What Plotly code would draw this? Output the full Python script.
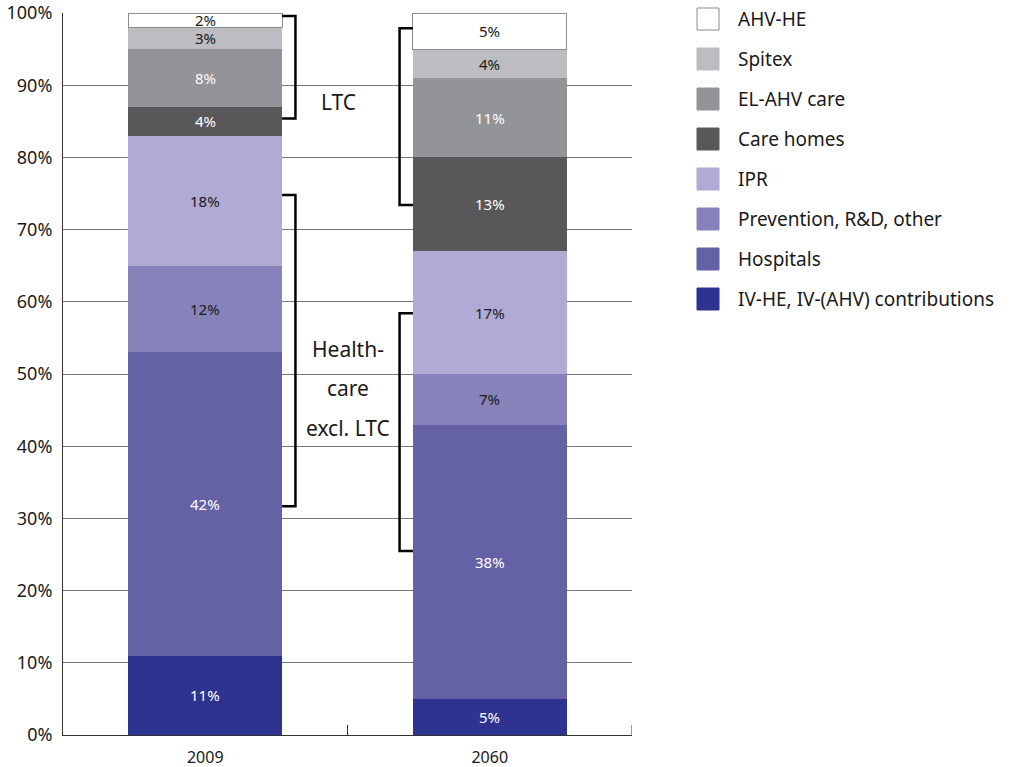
import plotly.graph_objects as go

years = ["2009", "2060"]
categories = ["IV-HE, IV-(AHV) contributions", "Hospitals", "Prevention, R&D, other",
              "IPR", "Care homes", "EL-AHV care", "Spitex", "AHV-HE"]
share_2009 = [11, 42, 12, 18, 4, 8, 3, 2]
share_2060 = [5, 38, 7, 17, 13, 11, 4, 5]
colors = ["#2e3390", "#6461a5", "#8882bb", "#b0aad4", "#58585a", "#939497", "#bcbdc0", "#ffffff"]
label_colors = ["white", "white", "#1a1a1a", "#1a1a1a", "white", "white", "#1a1a1a", "#1a1a1a"]

# Brackets grouping the stacks: (year index, side, y from, y to)
brackets = [
    (0, "right", 85.4, 99.6),   # LTC 2009
    (0, "right", 31.7, 74.8),   # Health-care 2009
    (1, "left", 73.4, 97.9),    # LTC 2060
    (1, "left", 25.5, 58.4),    # Health-care 2060
]

FONT = "Noto Sans"
BAR_W = 0.54
TXT = "#1a1a1a"

fig = go.Figure()
for i, cat in enumerate(categories):
    white = colors[i] == "#ffffff"
    fig.add_trace(go.Bar(
        x=[0, 1], y=[share_2009[i], share_2060[i]], name=cat,
        width=BAR_W, marker=dict(color=colors[i],
                                 line=dict(color="#8c8c8c" if white else colors[i],
                                           width=1 if white else 0)),
        showlegend=False, hoverinfo="skip",
    ))

annotations = []
# segment labels at each segment's midpoint
for xi, vals in enumerate([share_2009, share_2060]):
    base = 0
    for i, v in enumerate(vals):
        annotations.append(dict(x=xi, y=base + v / 2, xref="x", yref="y", text=f"{v}%",
                                showarrow=False, yanchor="middle",
                                font=dict(family=FONT, size=15, color=label_colors[i])))
        base += v

shapes = []
stub = 0.047
for xi, side, y0, y1 in brackets:
    if side == "right":
        edge = xi + BAR_W / 2
        outer = edge + stub
    else:
        edge = xi - BAR_W / 2
        outer = edge - stub
    path = f"M {edge},{y1} L {outer},{y1} L {outer},{y0} L {edge},{y0}"
    shapes.append(dict(type="path", path=path, xref="x", yref="y",
                       line=dict(color="black", width=2.5), layer="above"))

annotations.append(dict(x=0.47, y=87.7, xref="x", yref="y", text="LTC", showarrow=False,
                        font=dict(family=FONT, size=21, color=TXT)))
for line_text, ly in [("Health-", 53.4), ("care", 48.0), ("excl. LTC", 42.5)]:
    annotations.append(dict(x=0.5, y=ly, xref="x", yref="y", text=line_text,
                            showarrow=False, font=dict(family=FONT, size=21, color=TXT)))

# legend drawn as swatches with labels (paper coordinates)
PLOT_H = 722
for k, cat in enumerate(reversed(categories)):
    col = colors[len(categories) - 1 - k]
    cy = 19 + 40 * k
    shapes.append(dict(type="rect", xref="paper", yref="paper",
                       x0=(697 - 63) / 569, x1=(719 - 63) / 569,
                       y0=(735 - (cy + 11)) / PLOT_H, y1=(735 - (cy - 11)) / PLOT_H,
                       fillcolor=col, line=dict(color="#8c8c8c" if col == "#ffffff" else col, width=1)))
    annotations.append(dict(x=(736 - 63) / 569, y=(735 - cy) / PLOT_H, xref="paper", yref="paper",
                            text=cat, showarrow=False, xanchor="left", yanchor="middle",
                            font=dict(family=FONT, size=19, color=TXT)))

fig.update_layout(
    barmode="stack",
    width=1013, height=767,
    margin=dict(l=63, r=381, t=13, b=32),
    plot_bgcolor="white", paper_bgcolor="white",
    shapes=shapes, annotations=annotations,
    xaxis=dict(range=[-0.5, 1.5], tickmode="array", tickvals=[0, 1], ticktext=years,
               showgrid=False, zeroline=False, showline=True, linecolor="#333", linewidth=1,
               automargin=False, ticklen=0, ticklabelstandoff=8,
               tickfont=dict(family=FONT, size=16, color=TXT)),
    yaxis=dict(range=[0, 100], dtick=10, ticksuffix="%", showgrid=True, gridcolor="#777",
               gridwidth=1, zeroline=False, showline=True, linecolor="#333", linewidth=1,
               automargin=False, ticklen=0, ticklabelstandoff=6,
               tickfont=dict(family=FONT, size=18, color=TXT)),
)

# small upward ticks at the category boundaries
for bx in [0.5, 1.5]:
    fig.add_shape(type="line", xref="x", yref="y", x0=bx, x1=bx, y0=0, y1=1.4,
                  line=dict(color="#333", width=1))

fig.write_html("out.html")
